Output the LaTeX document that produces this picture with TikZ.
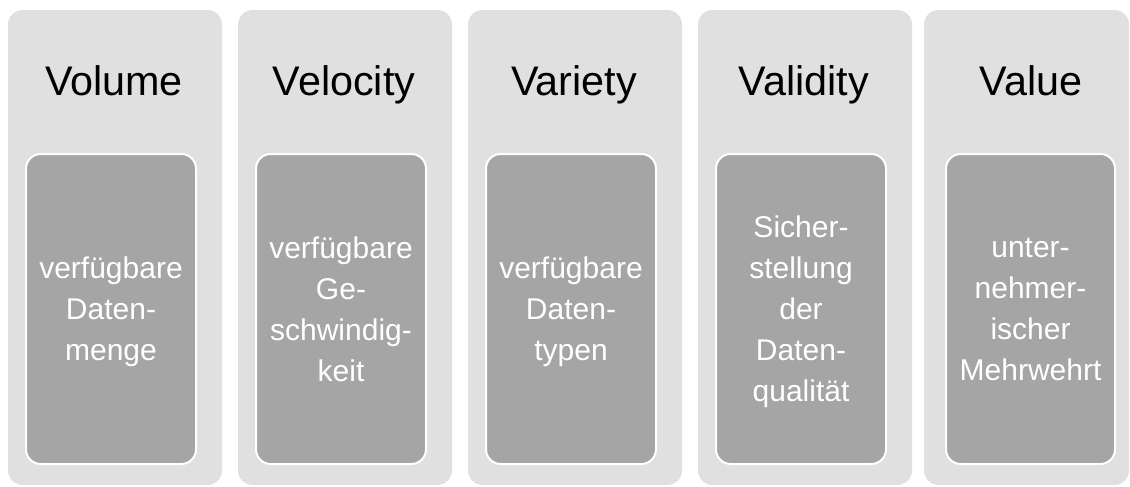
\documentclass[tikz,border=0pt]{standalone}
\usepackage{fontspec}
\setmainfont{Liberation Sans}
\definecolor{panelgray}{HTML}{E0E0E0}
\definecolor{cardgray}{HTML}{A5A5A5}
\begin{document}
\begin{tikzpicture}[x=0.75pt,y=-0.75pt,
  panel/.style={fill=panelgray, draw=none, rounded corners=11pt},
  card/.style={fill=cardgray, draw=white, line width=1.5pt, rounded corners=11pt},
  heading/.style={anchor=base, inner sep=0pt, text=black,
    font=\fontsize{31}{37}\selectfont},
  cardtext/.style={align=center, inner sep=0pt, text=white,
    font=\fontsize{22.5}{30.75}\selectfont,
    execute at begin node=\strut, execute at end node=\strut}]
\useasboundingbox[fill=white] (0,0) rectangle (1130,486);

% column panels
\path[panel] (8,10)   rectangle (222,485);
\path[panel] (238,10) rectangle (452,485);
\path[panel] (468,10) rectangle (682,485);
\path[panel] (698,10) rectangle (912,485);
\path[panel] (924,10) rectangle (1129,485);

% inner cards
\path[card] (26,154)  rectangle (196,464);
\path[card] (256,154) rectangle (426,464);
\path[card] (486,154) rectangle (656,464);
\path[card] (716,154) rectangle (886,464);
\path[card] (946,154) rectangle (1115,464);

% column headings
\node[heading] (h1) at (114,95)  {Volume};
\node[heading] (h2) at (344,95)  {Velocity};
\node[heading] (h3) at (574,95)  {Variety};
\node[heading] (h4) at (804,95)  {Validity};
\node[heading] (h5) at (1031,95) {Value};

% card texts, centred in their cards
\node[cardtext] (t1) at (111,315)  {verfügbare\\Daten-\\menge};
\node[cardtext] (t2) at (341,315)  {verfügbare\\Ge-\\schwindig-\\keit};
\node[cardtext] (t3) at (571,315)  {verfügbare\\Daten-\\typen};
\node[cardtext] (t4) at (801,315)  {Sicher-\\stellung\\der\\Daten-\\qualität};
\node[cardtext] (t5) at (1030.5,315) {unter-\\nehmer-\\ischer\\Mehrwehrt};
\end{tikzpicture}
\end{document}
